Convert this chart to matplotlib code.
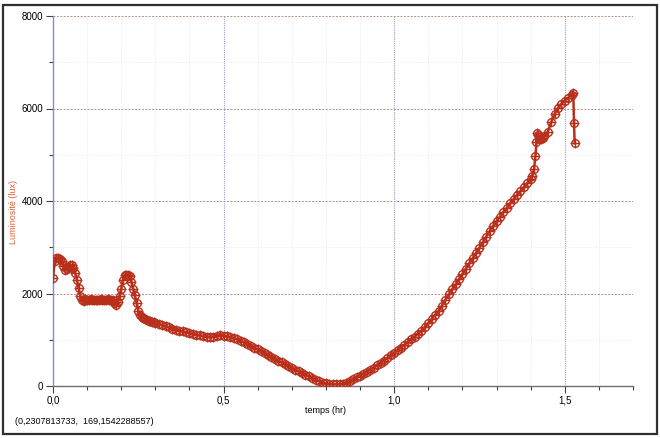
import matplotlib
matplotlib.use("Agg")
import matplotlib.pyplot as plt
from matplotlib.ticker import MultipleLocator, FuncFormatter
from matplotlib.patches import Rectangle

plt.rcParams['font.family'] = ['Liberation Sans', 'DejaVu Sans']

# temps (hr)
temps = [
    0.000, 0.005, 0.010, 0.015, 0.020, 0.025, 0.030, 0.035, 0.040, 0.045,
    0.050, 0.055, 0.060, 0.065, 0.070, 0.075, 0.080, 0.085, 0.090, 0.095,
    0.100, 0.105, 0.110, 0.115, 0.120, 0.125, 0.130, 0.135, 0.140, 0.145,
    0.150, 0.155, 0.160, 0.165, 0.170, 0.175, 0.180, 0.185, 0.190, 0.195,
    0.200, 0.205, 0.210, 0.215, 0.220, 0.225, 0.230, 0.235, 0.240, 0.245,
    0.250, 0.255, 0.260, 0.265, 0.270, 0.275, 0.280, 0.285, 0.290, 0.295,
    0.300, 0.31, 0.32, 0.33, 0.34, 0.35, 0.36, 0.37, 0.38, 0.39,
    0.40, 0.41, 0.42, 0.43, 0.44, 0.45, 0.46, 0.47, 0.48, 0.49,
    0.50, 0.51, 0.52, 0.53, 0.54, 0.55, 0.56, 0.57, 0.58, 0.59,
    0.60, 0.61, 0.62, 0.63, 0.64, 0.65, 0.66, 0.67, 0.68, 0.69,
    0.70, 0.71, 0.72, 0.73, 0.74, 0.75, 0.76, 0.77, 0.78, 0.79,
    0.80, 0.81, 0.82, 0.83, 0.84, 0.85, 0.86, 0.87, 0.88, 0.89,
    0.90, 0.91, 0.92, 0.93, 0.94, 0.95, 0.96, 0.97, 0.98, 0.99,
    1.00, 1.01, 1.02, 1.03, 1.04, 1.05, 1.06, 1.07, 1.08, 1.09,
    1.10, 1.11, 1.12, 1.13, 1.14, 1.15, 1.16, 1.17, 1.18, 1.19,
    1.20, 1.21, 1.22, 1.23, 1.24, 1.25, 1.26, 1.27, 1.28, 1.29,
    1.30, 1.31, 1.32, 1.33, 1.34, 1.35, 1.36, 1.37, 1.38, 1.39,
    1.40, 1.405, 1.41, 1.414, 1.417, 1.419, 1.422, 1.425, 1.43, 1.435,
    1.44, 1.45, 1.46, 1.47, 1.48, 1.49, 1.50, 1.51, 1.52, 1.525,
    1.527, 1.529,
]

# Luminosité (lux)
luminosite = [
    2330, 2700, 2760, 2760, 2740, 2700, 2600, 2510, 2530, 2580,
    2610, 2610, 2560, 2440, 2300, 2110, 1950, 1860, 1840, 1880,
    1860, 1870, 1880, 1850, 1860, 1870, 1850, 1860, 1880, 1860,
    1850, 1870, 1880, 1870, 1860, 1850, 1800, 1750, 1820, 1950,
    2100, 2300, 2390, 2400, 2390, 2370, 2250, 2100, 1960, 1800,
    1620, 1540, 1490, 1460, 1440, 1420, 1410, 1395, 1385, 1375,
    1365, 1340, 1315, 1290, 1265, 1240, 1220, 1200, 1180, 1160,
    1140, 1125, 1110, 1095, 1080, 1070, 1065, 1070, 1090, 1100,
    1090, 1075, 1055, 1035, 1010, 980, 945, 905, 865, 825,
    790, 750, 710, 670, 630, 590, 550, 510, 470, 430,
    395, 355, 315, 280, 245, 210, 175, 140, 105, 75,
    55, 45, 40, 40, 42, 50, 70, 105, 145, 185,
    225, 265, 310, 355, 400, 445, 500, 550, 605, 660,
    715, 770, 830, 890, 950, 1010, 1070, 1130, 1200, 1280,
    1360, 1450, 1540, 1630, 1740, 1860, 1980, 2090, 2200, 2310,
    2420, 2540, 2650, 2760, 2880, 2990, 3110, 3230, 3350, 3460,
    3570, 3660, 3760, 3850, 3950, 4040, 4130, 4210, 4300, 4380,
    4470, 4550, 4700, 4980, 5280, 5460, 5420, 5350, 5330, 5360,
    5400, 5500, 5700, 5880, 6010, 6100, 6170, 6230, 6290, 6340,
    5680, 5250,
]

x_ticks = [0.0, 0.5, 1.0, 1.5]
y_ticks = [0, 2000, 4000, 6000, 8000]

fig = plt.figure(figsize=(6.6, 4.38), dpi=100)
ax = fig.add_axes([53/660, 1 - 386/438, 580/660, 370/438])

red = '#b8301c'
ax.plot(temps, luminosite, color=red, lw=1.8, zorder=3)
ax.plot(temps, luminosite, ls='none', marker='o', ms=5.5, mfc='none',
        mec=red, mew=1.0, zorder=4)
ax.plot(temps, luminosite, ls='none', marker='+', ms=6.5, mec=red,
        mew=1.0, zorder=4)

ax.set_xlim(0, 1.7)
ax.set_ylim(0, 8000)
ax.set_xticks(x_ticks)
ax.set_yticks(y_ticks)
ax.xaxis.set_minor_locator(MultipleLocator(0.1))
ax.yaxis.set_minor_locator(MultipleLocator(1000))
ax.xaxis.set_major_formatter(FuncFormatter(lambda v, p: f"{v:.1f}".replace('.', ',')))
ax.yaxis.set_major_formatter(FuncFormatter(lambda v, p: f"{int(v)}"))

ax.tick_params(axis='both', which='major', labelsize=7, length=5, width=0.8,
               color='#404040', direction='out', pad=2)
ax.tick_params(axis='both', which='minor', length=3, width=0.8, color='#404040',
               direction='out')

# grids
ax.grid(True, axis='y', which='major', color='#b89080', ls=(0, (2, 1.5)), lw=0.7)
ax.grid(True, axis='x', which='major', color='#9aa0cc', ls=(0, (1, 1)), lw=0.8)
ax.grid(True, axis='both', which='minor', color='#e2e2e2', ls=(0, (1, 2)), lw=0.6)
ax.set_axisbelow(True)

for s in ['top', 'right']:
    ax.spines[s].set_visible(False)
ax.spines['left'].set_color('#7c8fd8')
ax.spines['left'].set_linewidth(1.0)
ax.spines['bottom'].set_color('#707070')
ax.spines['bottom'].set_linewidth(1.0)

ax.set_xlabel('temps (hr)', fontsize=6.5)
ax.xaxis.set_label_coords(0.47, -0.055)
ax.set_ylabel('Luminosité (lux)', fontsize=6.5, color='#e0603a')
ax.yaxis.set_label_coords(-0.061, 0.47)

fig.text(15/660, 1 - 421/438, '(0,2307813733,  169,1542288557)', fontsize=6.5,
         va='center', ha='left')

fig.patches.append(Rectangle((3/660, 1 - 434/438), 654/660, 429/438,
                             transform=fig.transFigure, fill=False,
                             edgecolor='#303030', lw=1.6))

fig.savefig('out.png', dpi=100)
